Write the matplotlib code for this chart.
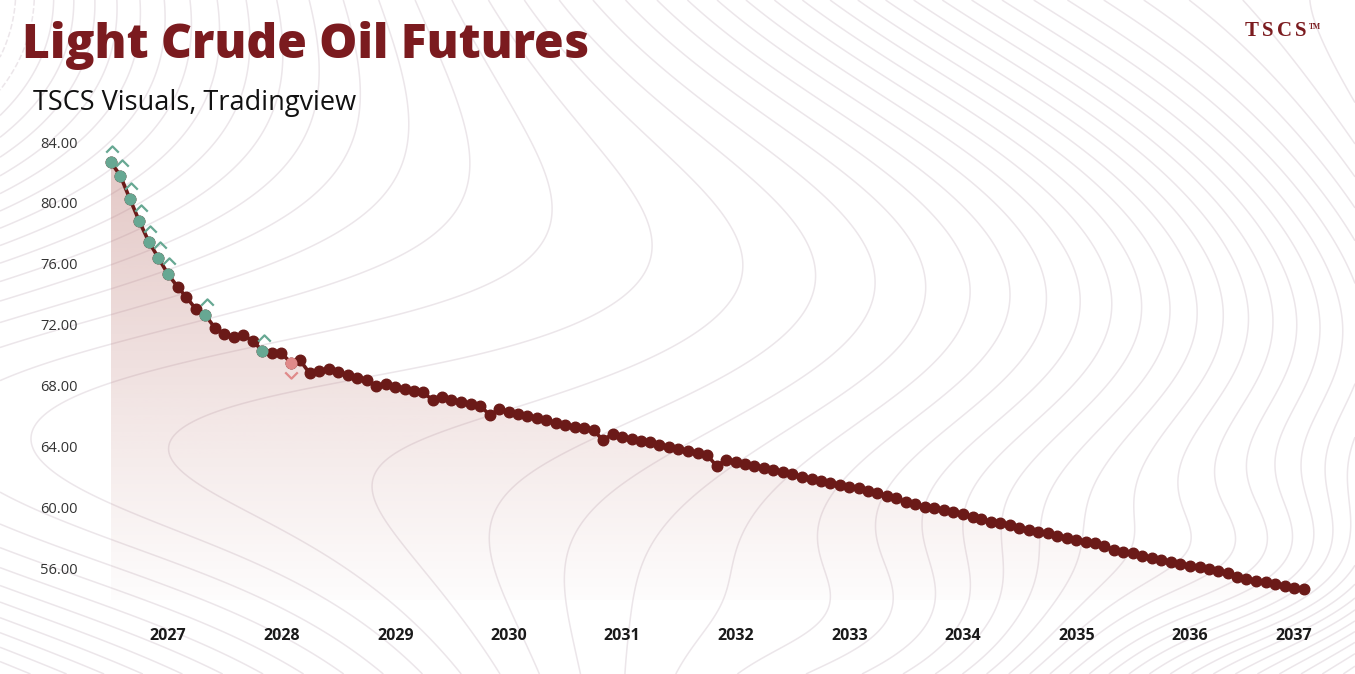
import numpy as np
import pandas as pd
import matplotlib
matplotlib.use('Agg')
import matplotlib.pyplot as plt
import matplotlib.dates as mdates
import matplotlib.transforms as mtransforms
from matplotlib.path import Path

# monthly contract prices, Jul 2026 -> Jan 2037
meses = pd.date_range('2026-07-01', periods=127, freq='MS')
precos = [
    82.70, 81.78, 80.25, 78.79, 77.43, 76.40, 75.32, 74.49, 73.81, 73.02,
    72.63, 71.79, 71.38, 71.20, 71.31, 70.92, 70.28, 70.11, 70.11, 69.49,
    69.65, 68.80, 68.95, 69.06, 68.86, 68.69, 68.51, 68.38, 67.96, 68.09,
    67.92, 67.75, 67.63, 67.55, 67.04, 67.22, 67.04, 66.91, 66.78, 66.67,
    66.06, 66.43, 66.27, 66.12, 65.99, 65.84, 65.73, 65.55, 65.42, 65.29,
    65.20, 65.05, 64.39, 64.83, 64.61, 64.50, 64.35, 64.26, 64.10, 63.97,
    63.82, 63.69, 63.58, 63.43, 62.70, 63.12, 62.95, 62.84, 62.72, 62.57,
    62.46, 62.31, 62.20, 61.98, 61.85, 61.72, 61.61, 61.47, 61.34, 61.24,
    61.08, 60.93, 60.75, 60.58, 60.36, 60.21, 60.03, 59.92, 59.81, 59.70,
    59.53, 59.33, 59.22, 59.04, 58.94, 58.81, 58.65, 58.50, 58.37, 58.28,
    58.10, 57.99, 57.84, 57.71, 57.62, 57.47, 57.18, 57.03, 56.97, 56.79,
    56.68, 56.53, 56.37, 56.28, 56.13, 56.05, 55.91, 55.78, 55.65, 55.43,
    55.30, 55.16, 55.06, 54.95, 54.82, 54.70, 54.62,
]
sinal_alta = [0, 1, 2, 3, 4, 5, 6, 10, 16]   # teal points with ^
sinal_baixa = [19]                           # pink point with v
anos = [2027, 2028, 2029, 2030, 2031, 2032, 2033, 2034, 2035, 2036, 2037]
y_ticks = [56, 60, 64, 68, 72, 76, 80, 84]

vinho = '#6b1a18'
titulo_cor = '#7b1b1f'
verde = '#67a893'
rosa = '#e08a8a'

W, H = 1355, 674
fig = plt.figure(figsize=(W / 100, H / 100), dpi=100)
fig.patch.set_facecolor('white')

# background wavy contour texture
bg = fig.add_axes([0, 0, 1, 1], zorder=0)
bg.set_xlim(0, 1)
bg.set_ylim(0, 1)
bg.axis('off')
gx, gy = np.meshgrid(np.linspace(0, 1, 400), np.linspace(0, 1, 300))
campo = (3.2 * gx + 0.55 * np.sin(5.0 * gy + 2.5 * gx) * np.exp(-2 * gx)
         + 0.35 * np.sin(3.0 * gy - 4.0 * gx) + 0.25 * np.cos(7 * gx * gy)
         - 0.6 * np.exp(-((gx - 0.95) ** 2 + (gy - 0.15) ** 2) / 0.02)
         - 0.5 * np.exp(-((gx - 0.7) ** 2 + (gy - 0.05) ** 2) / 0.03))
bg.contour(gx, gy, campo, levels=50, colors='#ece6ea', linewidths=1.1)

# main axes
x0, x1 = 110.7, 1303.7
ytop, ybot = 130, 600
ax = fig.add_axes([x0 / W, 1 - ybot / H, (x1 - x0) / W, (ybot - ytop) / H], zorder=1)
ax.patch.set_alpha(0)
px_por_unidade = (568 - 142) / 28.0
ylim_top = 84 + (142 - ytop) / px_por_unidade
ylim_bot = 84 - (ybot - 142) / px_por_unidade
ax.set_ylim(ylim_bot, ylim_top)
xnum = mdates.date2num(meses)
ax.set_xlim(xnum[0], xnum[-1])

# gradient fill under the curve
grad = np.zeros((256, 2, 4))
grad[:, :, 0] = 190 / 255
grad[:, :, 1] = 125 / 255
grad[:, :, 2] = 120 / 255
grad[:, :, 3] = np.linspace(0.42, 0.02, 256)[:, None]
img = ax.imshow(grad, aspect='auto', extent=[xnum[0], xnum[-1], ylim_bot, max(precos)],
                origin='upper', zorder=1)
poly = ax.fill_between(xnum, precos, ylim_bot, color='none', lw=0)
clip = poly.get_paths()[0]
img.set_clip_path(clip, ax.transData)

# line and points
ax.plot(xnum, precos, color=vinho, lw=2.6, zorder=3, clip_on=False)
ax.plot(xnum, precos, 'o', color=vinho, ms=7.6, zorder=4, clip_on=False)
ax.plot(xnum[sinal_alta], np.array(precos)[sinal_alta], 'o', color=verde, ms=7.6,
        zorder=5, clip_on=False)
ax.plot(xnum[sinal_baixa], np.array(precos)[sinal_baixa], 'o', color=rosa, ms=7.6,
        zorder=5, clip_on=False)

# chevrons above / below signal points
chev_up = Path([(-1, -0.5), (0, 0.5), (1, -0.5)], [Path.MOVETO, Path.LINETO, Path.LINETO])
chev_dn = Path([(-1, 0.5), (0, -0.5), (1, 0.5)], [Path.MOVETO, Path.LINETO, Path.LINETO])
sobe = mtransforms.offset_copy(ax.transData, fig=fig, x=1.5, y=13, units='dots')
desce = mtransforms.offset_copy(ax.transData, fig=fig, x=0, y=-12, units='dots')
ax.plot(xnum[sinal_alta], np.array(precos)[sinal_alta], ls='none', marker=chev_up,
        ms=9, mfc='none', mec=verde, mew=1.6, transform=sobe, clip_on=False, zorder=5)
ax.plot(xnum[sinal_baixa], np.array(precos)[sinal_baixa], ls='none', marker=chev_dn,
        ms=9, mfc='none', mec=rosa, mew=1.6, transform=desce, clip_on=False, zorder=5)

# axes styling
for s in ax.spines.values():
    s.set_visible(False)
ax.set_yticks(y_ticks)
ax.set_yticklabels([f'{v:.2f}' for v in y_ticks], fontsize=10.5, color='#333333',
                   family='Open Sans')
ax.tick_params(axis='y', length=0, pad=23.5)
xt = mdates.date2num([pd.Timestamp(f'{a}-01-01') for a in anos])
ax.set_xticks(xt)
ax.set_xticklabels([str(a) for a in anos], fontsize=11.5, fontweight='bold',
                   color='#1a1a1a', family='Open Sans')
ax.tick_params(axis='x', length=0, pad=20.5)
ult = ax.get_xticklabels()[-1]
ult.set_transform(ult.get_transform() + mtransforms.ScaledTranslation(-10 / 100, 0, fig.dpi_scale_trans))

# titles
fig.text(22 / W, 1 - 46 / H, 'Light Crude Oil Futures', fontsize=34.5, fontweight='heavy',
         color=titulo_cor, family='Open Sans', va='center', ha='left')
fig.text(33 / W, 1 - 103 / H, 'TSCS Visuals, Tradingview', fontsize=19.5, color='#111111',
         family='Open Sans', va='center', ha='left')

# logo, letters spaced out a bit
for letra, lx in zip('TSCS', [1245, 1262, 1277, 1295]):
    fig.text(lx / W, 1 - 31 / H, letra, fontsize=15, fontweight='bold', color=titulo_cor,
             family='Liberation Serif', va='center', ha='left')
fig.text(1309 / W, 1 - 27 / H, 'TM', fontsize=5.5, fontweight='bold', color=titulo_cor,
         family='Liberation Serif', va='center', ha='left')

fig.savefig('out.png', dpi=100, facecolor='white')
